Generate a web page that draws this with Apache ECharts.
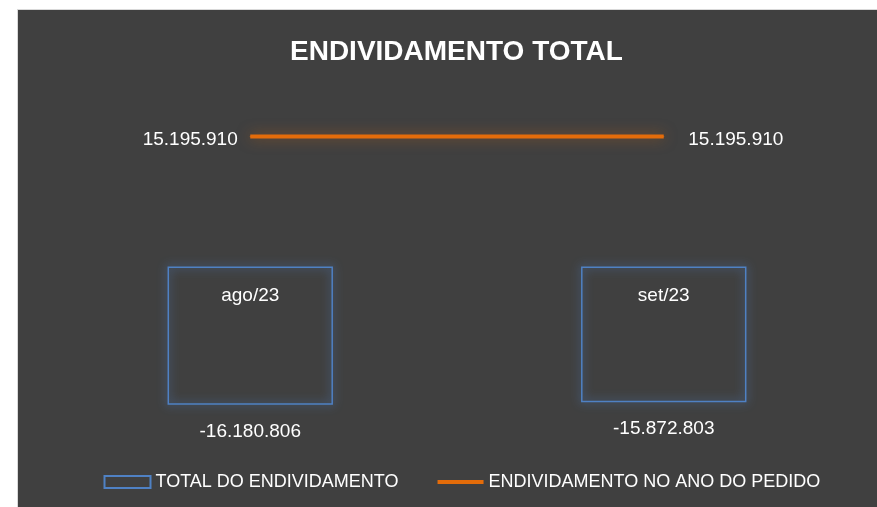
<!DOCTYPE html>
<html>
<head>
<meta charset="utf-8">
<script src="https://cdn.jsdelivr.net/npm/echarts@6/dist/echarts.min.js"></script>
<style>
  html, body { margin: 0; padding: 0; background: #ffffff; }
  #chart {
    position: absolute; left: 17px; top: 9px; width: 860px; height: 498px;
    background: #404040; border-top: 1px solid #d9d9d9; border-left: 1px solid #d9d9d9;
  }
</style>
</head>
<body>
<div id="chart"></div>
<script>
// dados
const categorias = ['ago/23', 'set/23'];
const totalEndividamento = [-16180806, -15872803];
const endividamentoAno = [15195910, 15195910];

const fmt = v => (v < 0 ? '-' : '') + Math.abs(v).toString().replace(/\B(?=(\d{3})+(?!\d))/g, '.');
const fonte = 'Liberation Sans';

// eixo de valores (oculto)
const yMin = -20000000, yMax = 20000000;
const gridTop = 85.5, gridBottom = 70.5;
const alturaGrid = 497 - gridTop - gridBottom;
// leva o eixo de categorias até a linha do zero
const deslocZero = -alturaGrid * (0 - yMin) / (yMax - yMin);

const chart = echarts.init(document.getElementById('chart'), null, { renderer: 'canvas' });
chart.setOption({
  backgroundColor: '#404040',
  title: {
    text: 'ENDIVIDAMENTO TOTAL',
    left: 272,
    top: 28,
    padding: 0,
    textStyle: { color: '#ffffff', fontFamily: fonte, fontWeight: 'bold', fontSize: 28 }
  },
  legend: {
    top: 463,
    left: 85.5,
    padding: 0,
    itemWidth: 46,
    itemHeight: 12,
    itemGap: 37,
    textStyle: { color: '#ffffff', fontFamily: fonte, fontSize: 18 },
    data: [
      { name: 'TOTAL DO ENDIVIDAMENTO', icon: 'rect' },
      { name: 'ENDIVIDAMENTO NO ANO DO PEDIDO', itemStyle: { opacity: 0 }, lineStyle: { width: 4 } }
    ]
  },
  grid: { left: 25.5, right: 7.5, top: gridTop, bottom: gridBottom },
  xAxis: {
    type: 'category',
    data: categorias,
    offset: deslocZero,
    axisLine: { show: false, onZero: false },
    axisTick: { show: false },
    axisLabel: { color: '#ffffff', fontFamily: fonte, fontSize: 19, margin: 19 }
  },
  yAxis: {
    type: 'value',
    min: yMin,
    max: yMax,
    axisLine: { show: false },
    axisTick: { show: false },
    axisLabel: { show: false },
    splitLine: { show: false }
  },
  series: [
    {
      name: 'TOTAL DO ENDIVIDAMENTO',
      type: 'bar',
      data: totalEndividamento,
      barWidth: '40%',
      itemStyle: {
        color: 'rgba(0,0,0,0)',
        borderColor: '#4F81C4',
        borderWidth: 1.5,
        shadowBlur: 10,
        shadowColor: 'rgba(79,129,200,1)'
      },
      label: {
        show: true,
        position: 'outside',
        distance: 17,
        color: '#ffffff',
        fontFamily: fonte,
        fontSize: 19,
        formatter: p => fmt(p.value)
      },
      z: 2
    },
    {
      name: 'ENDIVIDAMENTO NO ANO DO PEDIDO',
      type: 'line',
      data: endividamentoAno.map((v, i) => ({
        value: v,
        label: i === 0 ? { position: 'left', distance: 12 } : { position: 'right', distance: 24 }
      })),
      symbol: 'circle',
      symbolSize: 1,
      showSymbol: true,
      lineStyle: {
        color: '#E46C0A',
        width: 4,
        shadowBlur: 14,
        shadowColor: 'rgba(228,108,10,0.5)'
      },
      itemStyle: { color: '#E46C0A' },
      label: {
        show: true,
        offset: [0, 3],
        color: '#ffffff',
        fontFamily: fonte,
        fontSize: 19,
        formatter: p => fmt(p.value)
      },
      z: 3
    }
  ]
});
</script>
</body>
</html>
